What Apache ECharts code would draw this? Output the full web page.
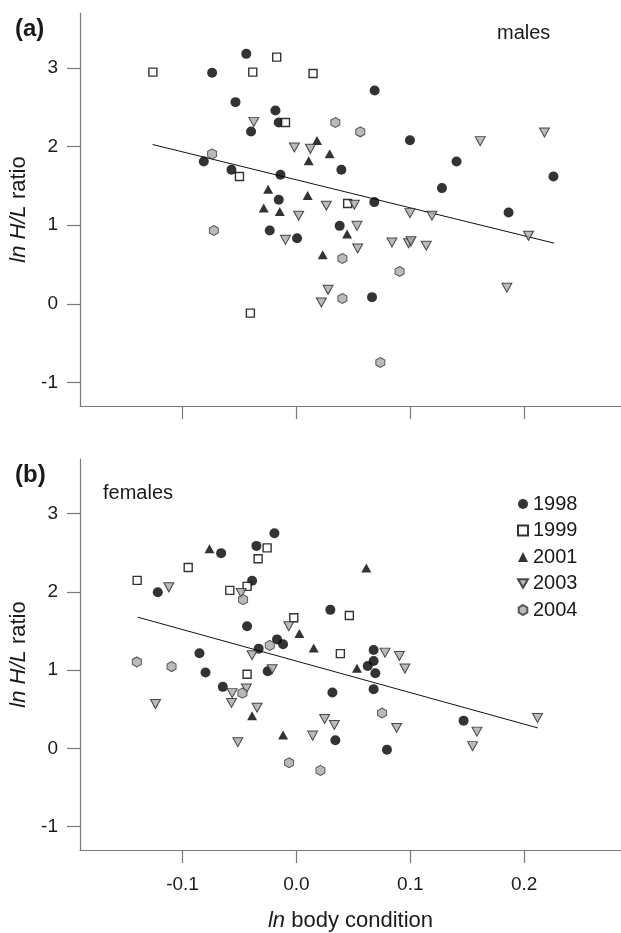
<!DOCTYPE html>
<html>
<head>
<meta charset="utf-8">
<script src="https://cdn.jsdelivr.net/npm/echarts@6/dist/echarts.min.js"></script>
<style>html,body{margin:0;padding:0;background:#fff}#c{width:621px;height:933px}</style>
</head>
<body>
<div id="c"></div>
<script>
// ---- data ----
const years = ['1998', '1999', '2001', '2003', '2004'];
const xTicks = [-0.1, 0.0, 0.1, 0.2];
const yTicks = [-1, 0, 1, 2, 3];

// (a) males
const males1998 = [[-0.074,2.939],[-0.044,3.18],[-0.0535,2.566],[-0.0184,2.459],[-0.0155,2.307],[-0.0398,2.192],[-0.0813,1.81],[-0.057,1.705],[-0.014,1.641],[-0.0155,1.323],[-0.0234,0.933],[0.0006,0.835],[0.0687,2.714],[0.0997,2.082],[0.0395,1.705],[0.1406,1.81],[0.2257,1.62],[0.1278,1.472],[0.0684,1.294],[0.1863,1.162],[0.038,0.992],[0.0664,0.085]];
const males1999 = [[-0.126,2.948],[-0.0173,3.139],[-0.0383,2.948],[0.0146,2.93],[-0.0096,2.307],[-0.05,1.62],[-0.0404,-0.119],[0.045,1.276]];
const males2001 = [[0.0181,2.078],[0.0108,1.819],[-0.0248,1.459],[0.0099,1.378],[-0.0287,1.218],[-0.0146,1.175],[0.0292,1.908],[0.0445,0.887],[0.0231,0.623]];
const males2003 = [[-0.0374,2.315],[-0.0018,1.989],[0.0123,1.972],[0.002,1.12],[-0.0096,0.814],[0.1614,2.07],[0.2178,2.18],[0.0263,1.247],[0.0509,1.26],[0.0997,1.154],[0.119,1.12],[0.0532,0.992],[0.2038,0.865],[0.0839,0.78],[0.0985,0.77],[0.1006,0.795],[0.114,0.738],[0.0538,0.704],[0.1848,0.204],[0.0278,0.178],[0.0219,0.017]];
const males2004 = [[-0.074,1.908],[-0.0725,0.933],[0.0342,2.307],[0.0561,2.188],[0.0404,0.577],[0.0906,0.411],[0.0404,0.068],[0.0737,-0.747]];
const malesFit = [[-0.1263,2.027],[0.2263,0.772]];

// (b) females
const females1998 = [[-0.0661,2.496],[-0.0351,2.589],[-0.0193,2.75],[-0.1217,1.995],[-0.0389,2.144],[-0.0433,1.562],[-0.017,1.393],[-0.0117,1.33],[-0.0851,1.215],[-0.0331,1.275],[-0.0798,0.969],[-0.0252,0.986],[-0.0646,0.786],[0.0298,1.771],[0.0678,1.257],[0.0678,1.117],[0.0626,1.053],[0.0693,0.961],[0.0678,0.757],[0.0316,0.715],[0.0342,0.104],[0.0795,-0.019],[0.1468,0.354]];
const females1999 = [[-0.0257,2.564],[-0.0336,2.424],[-0.095,2.313],[-0.1398,2.148],[-0.0585,2.02],[-0.0433,2.071],[-0.0023,1.669],[-0.0433,0.948],[0.0465,1.698],[0.0386,1.211]];
const females2001 = [[-0.0763,2.551],[0.0026,1.469],[0.0152,1.283],[-0.0389,0.417],[-0.0117,0.172],[0.0614,2.305],[0.0532,1.024]];
const females2003 = [[-0.112,2.059],[-0.0485,1.987],[-0.0067,1.562],[-0.0389,1.19],[-0.0213,1.011],[-0.0564,0.706],[-0.0439,0.766],[-0.057,0.579],[-0.1237,0.566],[-0.0345,0.519],[-0.0514,0.079],[0.0143,0.163],[0.0778,1.224],[0.0904,1.181],[0.0953,1.02],[0.088,0.261],[0.0248,0.375],[0.0333,0.299],[0.1585,0.214],[0.1547,0.028],[0.2117,0.388]];
const females2004 = [[-0.0468,1.902],[-0.0234,1.317],[-0.1401,1.105],[-0.1096,1.046],[-0.0474,0.706],[-0.0064,-0.184],[0.0211,-0.282],[0.0752,0.452]];
const femalesFit = [[-0.1392,1.677],[0.212,0.261]];

// ---- styles ----
const FONT = '"Liberation Sans", Arial, Helvetica, sans-serif';
const AX = '#7a7a7a';
const TXT = '#1a1a1a';
const GREY = '#a9a9a9';
const triDown = 'path://M0,0 L10,0 L5,8.66 Z';
const hexagon = 'path://M5,0 L9.33,2.5 L9.33,7.5 L5,10 L0.67,7.5 L0.67,2.5 Z';

const styleByYear = {
  '1998': { symbol: 'circle', symbolSize: 10, itemStyle: { color: '#000', borderWidth: 0 } },
  '1999': { symbol: 'rect', symbolSize: 8, itemStyle: { color: '#fff', borderColor: '#000', borderWidth: 1.4 } },
  '2001': { symbol: 'triangle', symbolSize: [10, 9], itemStyle: { color: '#000', borderWidth: 0 } },
  '2003': { symbol: triDown, symbolSize: [10, 9], itemStyle: { color: GREY, borderColor: '#222', borderWidth: 1 } },
  '2004': { symbol: hexagon, symbolSize: [9, 10], itemStyle: { color: GREY, borderColor: '#333', borderWidth: 1 } }
};

function mkScatter(name, data, idx) {
  const s = styleByYear[name];
  return Object.assign({ type: 'scatter', name: name, data: data, xAxisIndex: idx, yAxisIndex: idx, z: 3 }, JSON.parse(JSON.stringify(s)));
}
function mkFit(data, idx) {
  return { type: 'line', name: 'fit' + idx, data: data, xAxisIndex: idx, yAxisIndex: idx, symbol: 'none', silent: true, z: 2,
    lineStyle: { color: '#111', width: 1 } };
}

function xAxisDef(idx, showLabels) {
  return {
    type: 'value', gridIndex: idx, min: -0.19, max: 0.285,
    axisLine: { show: true, onZero: false, lineStyle: { color: AX, width: 1.2 } },
    axisTick: { show: true, inside: false, length: 13, customValues: xTicks, lineStyle: { color: AX, width: 1.2 } },
    axisLabel: { show: showLabels, customValues: xTicks, margin: 25, fontSize: 19, color: TXT, fontFamily: FONT,
      formatter: v => (Math.abs(v) < 1e-9 ? 0 : v).toFixed(1) },
    splitLine: { show: false },
    name: showLabels ? '{i|ln} body condition' : '',
    nameLocation: 'middle', nameGap: 60,
    nameTextStyle: { fontSize: 22, color: TXT, fontFamily: FONT, rich: { i: { fontStyle: 'italic', fontSize: 22, color: TXT, fontFamily: FONT } } }
  };
}
function yAxisDef(idx) {
  return {
    type: 'value', gridIndex: idx, min: -1.3, max: 3.7,
    axisLine: { show: true, onZero: false, lineStyle: { color: AX, width: 1.2 } },
    axisTick: { show: true, inside: false, length: 13, customValues: yTicks, lineStyle: { color: AX, width: 1.2 } },
    axisLabel: { customValues: yTicks, margin: 22, fontSize: 19, color: TXT, fontFamily: FONT },
    splitLine: { show: false },
    name: '{i|ln H/L} ratio',
    nameLocation: 'middle', nameGap: 43, nameRotate: 90,
    nameTextStyle: { fontSize: 22, color: TXT, fontFamily: FONT, rich: { i: { fontStyle: 'italic', fontSize: 22, color: TXT, fontFamily: FONT } } }
  };
}

const series = [];
const maleSets = [males1998, males1999, males2001, males2003, males2004];
const femaleSets = [females1998, females1999, females2001, females2003, females2004];
years.forEach((y, i) => series.push(mkScatter(y, maleSets[i], 0)));
series.push(mkFit(malesFit, 0));
years.forEach((y, i) => series.push(mkScatter(y, femaleSets[i], 1)));
series.push(mkFit(femalesFit, 1));

const chart = echarts.init(document.getElementById('c'), null, { renderer: 'canvas' });
chart.setOption({
  animation: false,
  backgroundColor: '#fff',
  textStyle: { fontFamily: FONT },
  grid: [
    { left: 80, top: 13, width: 541, height: 393 },
    { left: 80, top: 459, width: 541, height: 393 }
  ],
  xAxis: [xAxisDef(0, false), xAxisDef(1, true)],
  yAxis: [yAxisDef(0), yAxisDef(1)],
  title: [
    { text: '(a)', left: 10, top: 12, textStyle: { fontSize: 24, fontWeight: 'bold', color: TXT, fontFamily: FONT } },
    { text: 'males', left: 492, top: 18, textStyle: { fontSize: 20, fontWeight: 'normal', color: TXT, fontFamily: FONT } },
    { text: '(b)', left: 10, top: 458, textStyle: { fontSize: 24, fontWeight: 'bold', color: TXT, fontFamily: FONT } },
    { text: 'females', left: 98, top: 478, textStyle: { fontSize: 20, fontWeight: 'normal', color: TXT, fontFamily: FONT } }
  ],
  legend: {
    data: years, orient: 'vertical', left: 512, top: 489,
    itemWidth: 10, itemHeight: 10, itemGap: 6.5,
    textStyle: { fontSize: 20, color: TXT, fontFamily: FONT, lineHeight: 20 },
    selectedMode: false
  },
  series: series
});
</script>
</body>
</html>
